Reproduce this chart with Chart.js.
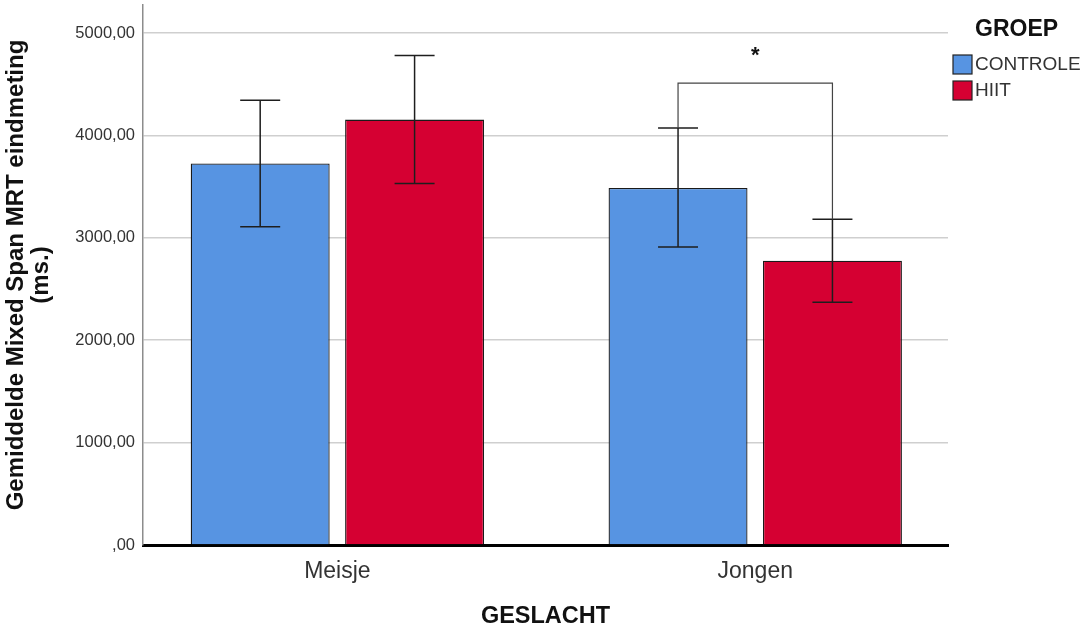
<!DOCTYPE html>
<html lang="nl">
<head>
<meta charset="utf-8">
<title>Mixed Span MRT eindmeting</title>
<script src="https://cdn.jsdelivr.net/npm/chart.js@4/dist/chart.umd.min.js"></script>
<style>
	body { margin: 0; background: #fff; overflow: hidden; }
</style>
</head>
<body>
<canvas id="c1" width="1081" height="637"></canvas>
<script>
	// values (ms.)
	var categories = ['Meisje', 'Jongen'];
	var groups = ['CONTROLE', 'HIIT'];
	var controleMean = [3725, 3487];
	var controleLow = [3107, 2909];
	var controleHigh = [4342, 4072];
	var hiitMean = [4154, 2776];
	var hiitLow = [3530, 2370];
	var hiitHigh = [4781, 3182];
	var yTicks = [0, 1000, 2000, 3000, 4000, 5000];
	// significance bracket over Jongen
	var bracketCategory = 1;
	var bracketValue = 4510;
	var starValue = 4810;

	var FONT = "'Liberation Sans', Arial, sans-serif";
	Chart.defaults.font.family = FONT;
	Chart.defaults.color = '#333';

	function points(values)
	{
		return values.map(function(v, i) { return {x: i, y: v}; });
	}

	var errorBars = {
		id: 'errorBars',
		afterDatasetsDraw: function(chart) {
			var ctx = chart.ctx, y = chart.scales.y;
			ctx.save();
			ctx.strokeStyle = '#1e1e1e';
			ctx.lineWidth = 1.5;
			chart.data.datasets.forEach(function(ds, di) {
				chart.getDatasetMeta(di).data.forEach(function(bar, i) {
					var top = y.getPixelForValue(ds.high[i]);
					var bot = y.getPixelForValue(ds.low[i]);
					ctx.beginPath();
					ctx.moveTo(bar.x, top); ctx.lineTo(bar.x, bot);
					ctx.moveTo(bar.x - 20, top); ctx.lineTo(bar.x + 20, top);
					ctx.moveTo(bar.x - 20, bot); ctx.lineTo(bar.x + 20, bot);
					ctx.stroke();
				});
			});
			ctx.restore();
		}
	};

	var bracket = {
		id: 'bracket',
		afterDatasetsDraw: function(chart) {
			var ctx = chart.ctx, y = chart.scales.y;
			var b0 = chart.getDatasetMeta(0).data[bracketCategory];
			var b1 = chart.getDatasetMeta(1).data[bracketCategory];
			var d = chart.data.datasets;
			var yb = y.getPixelForValue(bracketValue);
			ctx.save();
			ctx.strokeStyle = '#444';
			ctx.lineWidth = 1.2;
			ctx.beginPath();
			ctx.moveTo(b0.x, y.getPixelForValue(d[0].high[bracketCategory]));
			ctx.lineTo(b0.x, yb);
			ctx.lineTo(b1.x, yb);
			ctx.lineTo(b1.x, y.getPixelForValue(d[1].high[bracketCategory]));
			ctx.stroke();
			ctx.fillStyle = '#111';
			ctx.font = 'bold 22px ' + FONT;
			ctx.textAlign = 'center';
			ctx.textBaseline = 'middle';
			ctx.fillText('*', (b0.x + b1.x) / 2, y.getPixelForValue(starValue) + 4);
			ctx.restore();
		}
	};

	var sideLegend = {
		id: 'sideLegend',
		afterDraw: function(chart) {
			var ctx = chart.ctx;
			var x0 = chart.chartArea.right + 5;
			ctx.save();
			ctx.fillStyle = '#111';
			ctx.font = 'bold 23px ' + FONT;
			ctx.textAlign = 'left';
			ctx.textBaseline = 'middle';
			ctx.fillText('GROEP', x0 + 22, 30);
			ctx.font = '19px ' + FONT;
			chart.data.datasets.forEach(function(ds, i) {
				var top = 55 + i * 26;
				ctx.fillStyle = ds.backgroundColor;
				ctx.fillRect(x0, top, 19, 19);
				ctx.strokeStyle = '#222';
				ctx.lineWidth = 1.2;
				ctx.strokeRect(x0, top, 19, 19);
				ctx.fillStyle = '#333';
				ctx.fillText(ds.label, x0 + 22, top + 10);
			});
			ctx.restore();
		}
	};

	var config = {
		type: 'bar',
		plugins: [errorBars, bracket, sideLegend],
		data: {
			datasets: [
				{label: groups[0], data: points(controleMean), low: controleLow, high: controleHigh,
					backgroundColor: '#5794E2', borderColor: '#1a1a1a', borderWidth: 1.3},
				{label: groups[1], data: points(hiitMean), low: hiitLow, high: hiitHigh,
					backgroundColor: '#D50032', borderColor: '#1a1a1a', borderWidth: 1.3}
			]
		},
		options: {
			responsive: false,
			animation: false,
			categoryPercentage: 0.739,
			barPercentage: 0.9,
			layout: {padding: {top: 5, right: 133, left: 0, bottom: 0}},
			plugins: {
				legend: {display: false},
				tooltip: {enabled: false}
			},
			scales: {
				x: {
					type: 'linear',
					offset: false,
					min: -0.4652,
					max: 1.4613,
					afterBuildTicks: function(scale) {
						scale.ticks = categories.map(function(c, i) { return {value: i}; });
					},
					afterFit: function(scale) {
						scale.height = 92;
						scale.paddingLeft = 0;
						scale.paddingRight = 0;
					},
					ticks: {
						padding: 13,
						color: '#333',
						font: {size: 23},
						callback: function(v) { return categories[v]; }
					},
					grid: {display: false, drawTicks: false},
					border: {color: '#000', width: 3},
					title: {
						display: true,
						text: 'GESLACHT',
						color: '#111',
						font: {size: 23.5, weight: 'bold'},
						padding: {top: 0, bottom: 6}
					}
				},
				y: {
					min: 0,
					max: 5273,
					afterBuildTicks: function(scale) {
						scale.ticks = yTicks.map(function(v) { return {value: v}; });
					},
					afterFit: function(scale) {
						scale.width = 143;
						scale.paddingTop = 0;
						scale.paddingBottom = 0;
					},
					ticks: {
						padding: 8,
						color: '#333',
						font: {size: 16.5},
						callback: function(v) {
							return v === 0 ? ',00' : v.toFixed(2).replace('.', ',');
						}
					},
					grid: {color: '#cfcfcf', lineWidth: 1.5, drawTicks: false},
					border: {color: '#8c8c8c', width: 1.5},
					title: {
						display: true,
						text: ['Gemiddelde Mixed Span MRT eindmeting', '(ms.)'],
						color: '#111',
						font: {size: 24, weight: 'bold', lineHeight: 1.05},
						padding: {top: 4, bottom: 0}
					}
				}
			}
		}
	};

	var chart = new Chart(document.getElementById('c1'), config);
</script>
</body>
</html>
